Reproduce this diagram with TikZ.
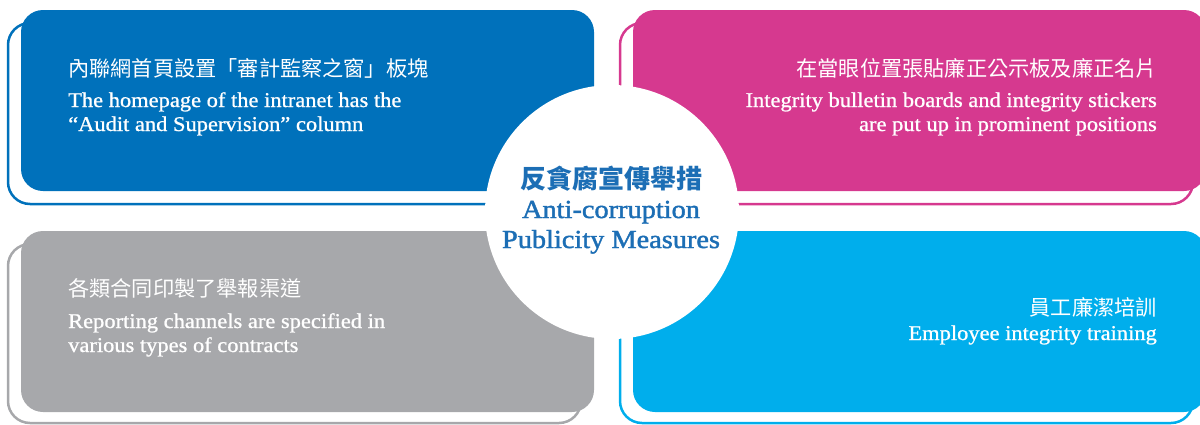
\documentclass[tikz,border=0pt]{standalone}
\usepackage{fontspec}
\setmainfont{Liberation Serif}
\newfontfamily\cjk{Noto Sans CJK TC}
\newfontfamily\engf[FakeStretch=1.07,FakeBold=0.9]{Liberation Serif}
\newfontfamily\engt[FakeStretch=1.09,FakeBold=1.6]{Liberation Serif}
\definecolor{cblue}{HTML}{0071BB}
\definecolor{cpink}{HTML}{D6398F}
\definecolor{cgray}{HTML}{A7A8AB}
\definecolor{ccyan}{HTML}{00AEEC}
\definecolor{ctitle}{HTML}{1C6EB5}
\tikzset{
  boxfill/.style={rounded corners=22pt},
  boxline/.style={rounded corners=22pt, line width=2.5pt},
  cjktxt/.style={inner sep=0pt, text=white, font=\cjk\fontsize{21.2}{24}\selectfont},
  engtxt/.style={inner sep=0pt, text=white, font=\engf\fontsize{21}{24}\selectfont},
  titlecjk/.style={inner sep=0pt, text=ctitle, font=\cjk\bfseries\fontsize{26}{30}\selectfont, anchor=base},
  titleeng/.style={inner sep=0pt, text=ctitle, font=\engt\fontsize{26}{28}\selectfont, anchor=base},
}
\begin{document}
\begin{tikzpicture}[x=1pt,y=-1pt]
\useasboundingbox (0,0) rectangle (1200,424);
\begin{scope}
\clip (0,0) rectangle (1200,424);
% outlines
\draw[boxline, draw=cblue] (8,23) rectangle (581,204);
\draw[boxline, draw=cpink] (620,23) rectangle (1193,204);
\draw[boxline, draw=cgray] (8,244) rectangle (581,423);
\draw[boxline, draw=ccyan] (620,244) rectangle (1193,423);
% fills
\fill[boxfill, cblue] (21,10) rectangle (594,191);
\fill[boxfill, cpink] (633,10) rectangle (1206,191);
\fill[boxfill, cgray] (21,231) rectangle (594,412);
\fill[boxfill, ccyan] (633,231) rectangle (1206,412);
% circle
\fill[white] (612,212) circle[radius=127];
\end{scope}
% blue texts
\node[cjktxt, anchor=base west] (b1) at (68,76) {內聯網首頁設置「審計監察之窗」板塊};
\node[engtxt, anchor=base west] (b2) at (68,107) {The homepage of the intranet has the};
\node[engtxt, anchor=base west] (b3) at (68,131) {“Audit and Supervision” column};
% pink texts
\node[cjktxt, anchor=base east] (p1) at (1157,76) {在當眼位置張貼廉正公示板及廉正名片};
\node[engtxt, anchor=base east] (p2) at (1157,107) {Integrity bulletin boards and integrity stickers};
\node[engtxt, anchor=base east] (p3) at (1157,131) {are put up in prominent positions};
% gray texts
\node[cjktxt, anchor=base west] (g1) at (68,296) {各類合同印製了舉報渠道};
\node[engtxt, anchor=base west] (g2) at (68,328) {Reporting channels are specified in};
\node[engtxt, anchor=base west] (g3) at (68,352) {various types of contracts};
% cyan texts
\node[cjktxt, anchor=base east] (c1) at (1157,315) {員工廉潔培訓};
\node[engtxt, anchor=base east] (c2) at (1157,340) {Employee integrity training};
% title
\node[titlecjk] (t1) at (611,188) {反貪腐宣傳舉措};
\node[titleeng] (t2) at (611,218) {Anti-corruption};
\node[titleeng] (t3) at (611,248) {Publicity Measures};
\end{tikzpicture}
\end{document}
